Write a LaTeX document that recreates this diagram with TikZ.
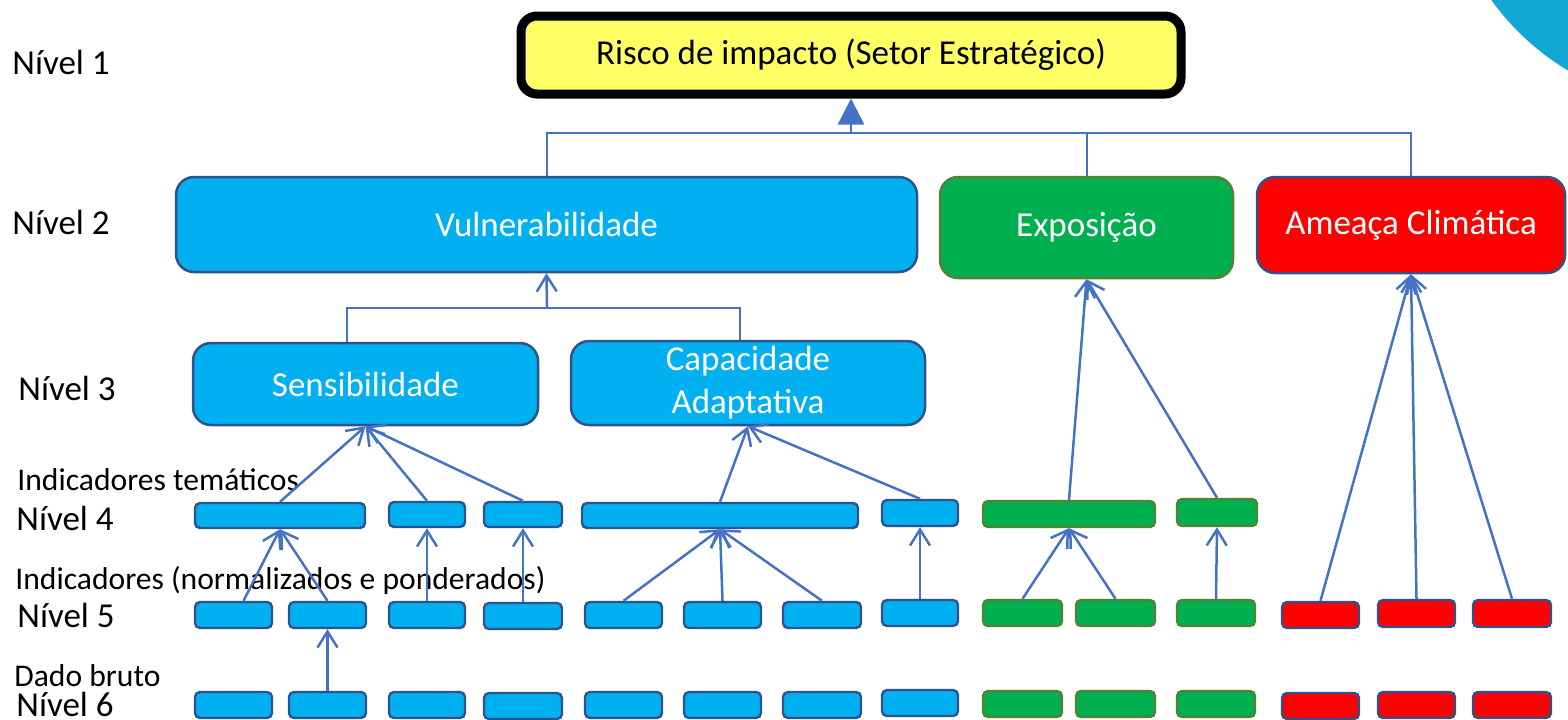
\documentclass[tikz,border=0pt]{standalone}
\usepackage{fontspec}
\setmainfont{Carlito}
\usetikzlibrary{arrows.meta,fit}
\definecolor{cyanfill}{HTML}{00B0F0}
\definecolor{bluebord}{HTML}{2F528F}
\definecolor{greenfill}{HTML}{00B050}
\definecolor{greenbord}{HTML}{548235}
\definecolor{redfill}{HTML}{FF0000}
\definecolor{linkblue}{HTML}{4472C4}
\definecolor{yellowfill}{HTML}{FFFF66}
\definecolor{arcblue}{HTML}{12A7D5}
\begin{document}
\begin{tikzpicture}[x=0.5pt,y=-0.5pt,
 box/.style={draw, line width=1.2pt, inner sep=0pt, rounded corners=2.5pt},
 bluebox/.style={box, fill=cyanfill, draw=bluebord},
 greenbox/.style={box, fill=greenfill, draw=greenbord},
 redbox/.style={box, fill=redfill, draw=bluebord},
 bigbox/.style={draw, line width=1.25pt, inner sep=0pt, rounded corners=9pt},
 boxtext/.style={text=white, align=center, inner sep=0pt, font=\fontsize{17.5}{21.5}\selectfont},
 lvl/.style={anchor=west, inner sep=0pt, font=\fontsize{17.5}{21}\selectfont},
 sublvl/.style={anchor=west, inner sep=0pt, font=\fontsize{15.8}{19}\selectfont},
 link/.style={draw=linkblue, line width=1.25pt, -{Straight Barb[length=8pt,width=10pt]}},
 plain/.style={draw=linkblue, line width=1pt},
]
\useasboundingbox (0,0) rectangle (1568,719);
\begin{scope}
\clip (0,0) rectangle (1568,719);
\fill[arcblue] (1700,-150) circle[radius=257];
\end{scope}

% level labels
\node[lvl] (n1) at (12,62) {Nível 1};
\node[lvl] (n2) at (12,222) {Nível 2};
\node[lvl] (n3) at (18,388) {Nível 3};
\node[sublvl] (t4) at (17,480) {Indicadores temáticos};
\node[lvl] (n4) at (16,518) {Nível 4};
\node[sublvl] (t5) at (15,580) {Indicadores (normalizados e ponderados)};
\node[lvl] (n5) at (17,615) {Nível 5};
\node[sublvl] (t6) at (14,676) {Dado bruto};
\node[lvl] (n6) at (16,704) {Nível 6};

% level 1
\node[fit={(521,16)(1181,94)}, draw=black, line width=4.5pt, fill=yellowfill, rounded corners=8pt, inner sep=0pt] (risk) {};
\node[boxtext, text=black] (risktxt) at (risk.center) {Risco de impacto (Setor Estratégico)};

% level 2
\node[bigbox, fill=cyanfill, draw=bluebord, fit={(176,177)(917,272)}] (vul) {};
\node[boxtext] (vultxt) at (vul.center) {Vulnerabilidade};
\node[bigbox, fill=greenfill, draw=greenbord, fit={(940,177)(1233,278)}] (expo) {};
\node[boxtext] (expotxt) at (expo.center) {Exposição};
\node[bigbox, fill=redfill, draw=bluebord, fit={(1257,177)(1565,273)}] (amea) {};
\node[boxtext] (ameatxt) at (amea.center) {Ameaça Climática};

% level 3
\node[bigbox, fill=cyanfill, draw=bluebord, fit={(193,343)(538,425)}] (sens) {};
\node[boxtext] (senstxt) at (sens.center) {Sensibilidade};
\node[bigbox, fill=cyanfill, draw=bluebord, fit={(571,341)(925,425)}] (cap) {};
\node[boxtext, font=\fontsize{17.5}{21.5}\selectfont] (captxt) at (cap.center) {Capacidade\\Adaptativa};

% level 4
\node[bluebox, fit={(195,503)(365,528)}] (b4a) {};
\node[bluebox, fit={(389,502)(465,527)}] (b4b) {};
\node[bluebox, fit={(484,502)(562,527)}] (b4c) {};
\node[bluebox, fit={(582,503)(858,528)}] (b4d) {};
\node[bluebox, fit={(882,500)(958,526)}] (b4e) {};
\node[greenbox, fit={(983,501)(1155,527)}] (g4a) {};
\node[greenbox, fit={(1177,499)(1257,526)}] (g4b) {};

% level 5
\node[bluebox, fit={(195,602)(272,628)}] (l5a) {};
\node[bluebox, fit={(289,602)(366,628)}] (l5b) {};
\node[bluebox, fit={(389,602)(465,628)}] (l5c) {};
\node[bluebox, fit={(484,603)(562,629)}] (l5d) {};
\node[bluebox, fit={(585,602)(662,628)}] (l5e) {};
\node[bluebox, fit={(684,602)(761,628)}] (l5f) {};
\node[bluebox, fit={(783,602)(861,628)}] (l5g) {};
\node[bluebox, fit={(882,600)(958,626)}] (l5h) {};
\node[greenbox, fit={(983,600)(1062,626)}] (g5a) {};
\node[greenbox, fit={(1076,600)(1155,626)}] (g5b) {};
\node[greenbox, fit={(1177,600)(1255,626)}] (g5c) {};
\node[redbox, fit={(1282,602)(1359,628)}] (r5a) {};
\node[redbox, fit={(1378,600)(1455,627)}] (r5b) {};
\node[redbox, fit={(1473,600)(1551,627)}] (r5c) {};

% level 6
\node[bluebox, fit={(195,692)(272,718)}] (l6a) {};
\node[bluebox, fit={(289,692)(366,718)}] (l6b) {};
\node[bluebox, fit={(389,692)(465,718)}] (l6c) {};
\node[bluebox, fit={(484,693)(562,719)}] (l6d) {};
\node[bluebox, fit={(585,692)(662,718)}] (l6e) {};
\node[bluebox, fit={(684,692)(761,718)}] (l6f) {};
\node[bluebox, fit={(783,692)(861,718)}] (l6g) {};
\node[bluebox, fit={(882,690)(958,716)}] (l6h) {};
\node[greenbox, fit={(983,691)(1062,717)}] (g6a) {};
\node[greenbox, fit={(1076,691)(1155,717)}] (g6b) {};
\node[greenbox, fit={(1177,691)(1255,717)}] (g6c) {};
\node[redbox, fit={(1282,693)(1359,719)}] (r6a) {};
\node[redbox, fit={(1378,692)(1455,718)}] (r6b) {};
\node[redbox, fit={(1473,692)(1551,718)}] (r6c) {};

% connectors level 2 -> 1
\coordinate (j1) at (851,133);
\draw[plain] (vul.north) |- (amea.north |- j1) -- (amea.north);
\draw[plain] (expo.north) -- (expo.north |- j1);
\draw[draw=linkblue, line width=1.25pt, -{Triangle[length=13pt,width=13pt]}] (j1) -- (risk.south);

% connectors level 3 -> 2
\coordinate (j2) at (547,308);
\coordinate (s3) at (347,0);
\coordinate (c3) at (740,0);
\draw[plain, line width=1.2pt] (sens.north -| s3) |- (j2) -| (cap.north -| c3);
\draw[link] (j2) -- (vul.south);

% level 4 -> 3 / 2
\draw[link] (b4a.north) -- (sens.south);
\draw[link] (b4b.north) -- (sens.south);
\draw[link] (b4c.north) -- (sens.south);
\draw[link] (b4d.north) -- (cap.south);
\draw[link] (b4e.north) -- (cap.south);
\draw[link] (g4a.north) -- (expo.south);
\draw[link] (g4b.north) -- (expo.south);

% level 5 -> 4 / 2
\draw[link] ([xshift=5pt]l5a.north) -- (b4a.south);
\draw[link] (l5b.north) -- (b4a.south);
\draw[link] (l5c.north) -- (b4b.south);
\draw[link] (l5d.north) -- (b4c.south);
\draw[link] (l5e.north) -- (b4d.south);
\draw[link] (l5f.north) -- (b4d.south);
\draw[link] (l5g.north) -- (b4d.south);
\draw[link] (l5h.north) -- (b4e.south);
\draw[link] (g5a.north) -- (g4a.south);
\draw[link] (g5b.north) -- (g4a.south);
\draw[link] (g5c.north) -- (g4b.south);
\draw[link] (r5a.north) -- (amea.south);
\draw[link] (r5b.north) -- (amea.south);
\draw[link] (r5c.north) -- (amea.south);

% level 6 -> 5
\draw[link] (l6b.north) -- (l5b.south);
\end{tikzpicture}
\end{document}
